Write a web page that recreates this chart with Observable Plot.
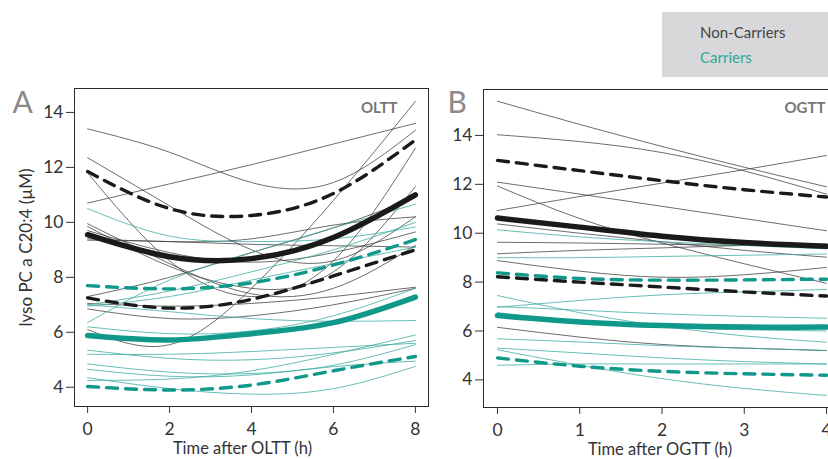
<!DOCTYPE html>
<html>
<head>
<meta charset="utf-8">
<script src="https://cdn.jsdelivr.net/npm/d3@7"></script>
<script src="https://cdn.jsdelivr.net/npm/@observablehq/plot@0.6"></script>
<style>
  body { margin: 0; background: #fff; }
  #chart { position: relative; width: 828px; height: 459px; overflow: hidden; font-family: Lato, sans-serif; }
  #chart svg { position: absolute; top: 0; }
  #legend { position: absolute; left: 662px; top: 12px; width: 190px; height: 65px; background: #d8d8da; }
  #legend span { position: absolute; left: 38px; font-size: 15px; line-height: 15px; white-space: nowrap; }
</style>
</head>
<body>
<div id="chart">
  <div id="legend">
    <span style="top:13px;color:#444">Non-Carriers</span>
    <span style="top:38px;color:#2aa99b">Carriers</span>
  </div>
</div>
<script>
// Sampling times (hours) for each test
const olttHours = [0, 2, 4, 6, 8];
const ogttHours = [0, 1, 2, 3, 4];
const yTicks = [4, 6, 8, 10, 12, 14];

// OLTT: fitted group curves (mean and band limits), lyso PC a C20:4 in µM
const olttNonCarrierMean = [9.55, 8.75, 8.68, 9.45, 11.0];
const olttNonCarrierUpper = [11.85, 10.5, 10.25, 11.05, 13.0];
const olttNonCarrierLower = [7.25, 6.88, 7.2, 8.05, 9.0];
const olttCarrierMean = [5.88, 5.72, 5.95, 6.35, 7.28];
const olttCarrierUpper = [7.7, 7.58, 7.8, 8.45, 9.37];
const olttCarrierLower = [4.03, 3.9, 4.08, 4.6, 5.12];

// OLTT: individual subject curves
const olttNonCarrierSubjects = [
  [13.4, 12.55, 11.45, 11.45, 13.35],
  [10.7, 11.4, 12.1, 12.85, 13.6],
  [12.35, 10.6, 9.0, 8.6, 10.2],
  [11.8, 8.6, 7.3, 8.6, 12.7],
  [9.95, 8.5, 7.4, 7.6, 9.16],
  [9.85, 8.4, 7.6, 8.2, 11.3],
  [9.7, 8.9, 8.55, 8.9, 9.65],
  [9.4, 9.3, 9.4, 9.9, 10.2],
  [9.35, 9.3, 9.2, 9.15, 9.1],
  [7.3, 8.0, 8.9, 9.8, 10.9],
  [7.05, 6.95, 7.05, 7.3, 7.64],
  [6.85, 6.5, 6.6, 7.0, 7.6],
  [6.1, 5.55, 7.6, 10.8, 14.4]
];
const olttCarrierSubjects = [
  [10.5, 9.5, 9.3, 9.4, 9.83],
  [6.35, 7.9, 8.9, 9.8, 10.66],
  [7.0, 7.5, 8.2, 9.0, 10.0],
  [7.0, 6.75, 6.5, 6.4, 6.43],
  [6.2, 5.95, 6.05, 6.6, 7.6],
  [5.35, 5.05, 5.0, 5.25, 5.7],
  [5.2, 5.2, 5.3, 5.45, 5.6],
  [4.85, 4.55, 4.5, 4.8, 5.55],
  [4.65, 4.4, 4.45, 4.75, 4.95],
  [4.35, 3.95, 3.75, 3.95, 4.76],
  [4.25, 4.3, 4.6, 5.2, 5.9],
  [6.95, 7.3, 7.9, 8.5, 9.1]
];

// OGTT: fitted group curves
const ogttNonCarrierMean = [10.62, 10.25, 9.88, 9.62, 9.47];
const ogttNonCarrierUpper = [12.98, 12.56, 12.15, 11.78, 11.48];
const ogttNonCarrierLower = [8.22, 8.0, 7.8, 7.6, 7.43];
const ogttCarrierMean = [6.63, 6.37, 6.22, 6.16, 6.16];
const ogttCarrierUpper = [8.38, 8.15, 8.08, 8.09, 8.12];
const ogttCarrierLower = [4.9, 4.56, 4.35, 4.25, 4.19];

// OGTT: individual subject curves
const ogttNonCarrierSubjects = [
  [15.4, 14.45, 13.55, 12.7, 11.9],
  [14.03, 13.75, 13.3, 12.55, 11.6],
  [10.93, 11.5, 12.05, 12.6, 13.18],
  [12.09, 11.6, 11.1, 10.6, 10.1],
  [11.93, 10.6, 9.6, 8.75, 7.95],
  [10.38, 10.0, 9.65, 9.3, 9.02],
  [9.63, 9.6, 9.55, 9.5, 9.45],
  [9.16, 9.3, 9.4, 9.5, 9.55],
  [8.88, 8.45, 8.2, 8.3, 8.6],
  [6.15, 5.75, 5.45, 5.3, 5.2]
];
const ogttCarrierSubjects = [
  [10.14, 9.85, 9.65, 9.5, 9.36],
  [9.0, 9.0, 9.05, 9.1, 9.15],
  [7.45, 6.75, 6.2, 5.8, 5.54],
  [6.97, 7.25, 7.48, 7.6, 7.7],
  [7.0, 6.85, 6.7, 6.6, 6.52],
  [6.75, 6.4, 6.15, 6.05, 6.0],
  [5.68, 5.55, 5.4, 5.3, 5.2],
  [5.3, 5.1, 4.9, 4.75, 4.65],
  [5.23, 4.6, 4.05, 3.65, 3.36],
  [4.6, 4.65, 4.65, 4.65, 4.65]
];

const INK = "#1a1a1a";
const TEAL = "#10998b";
const THIN_INK = "#3c3c3c";
const THIN_TEAL = "#35aa9d";

// Long-format rows for one curve or a set of curves
const toRows = (hours, values, id) => hours.map((t, i) => ({t, v: values[i], id}));
const manyRows = (hours, list, prefix) => list.flatMap((vals, k) => toRows(hours, vals, prefix + k));

function panel(o) {
  const thin = (rows, stroke) => Plot.line(rows, {x: "t", y: "v", z: "id", stroke, strokeWidth: 0.75, curve: "natural", clip: true});
  const dashed = (vals, stroke) => Plot.line(toRows(o.hours, vals, "d"), {x: "t", y: "v", stroke, strokeWidth: 3.4, strokeDasharray: "11,8", curve: "natural", clip: true});
  const bold = (vals, stroke) => Plot.line(toRows(o.hours, vals, "m"), {x: "t", y: "v", stroke, strokeWidth: 5.5, curve: "natural", clip: true});
  return Plot.plot({
    width: o.width,
    height: 459,
    marginLeft: o.marginLeft,
    marginRight: o.marginRight,
    marginTop: o.marginTop,
    marginBottom: o.marginBottom,
    style: {fontFamily: "Lato, sans-serif", fontSize: "17.5px", color: "#333", background: "transparent", overflow: "visible"},
    x: {domain: o.xDomain},
    y: {domain: o.yDomain},
    marks: [
      thin(manyRows(o.hours, o.nonSubjects, "n"), THIN_INK),
      thin(manyRows(o.hours, o.carSubjects, "c"), THIN_TEAL),
      dashed(o.nonUpper, INK),
      dashed(o.nonLower, INK),
      dashed(o.carUpper, TEAL),
      dashed(o.carLower, TEAL),
      bold(o.nonMean, INK),
      bold(o.carMean, TEAL),
      Plot.frame({stroke: "#2a2a2a", strokeWidth: 1}),
      Plot.axisX({ticks: o.hours, tickFormat: d => String(d), tickSize: 7, tickPadding: 9, fontSize: 17.5, label: null}),
      Plot.axisY({ticks: yTicks, tickFormat: d => String(d), tickSize: 8, tickPadding: 3, fontSize: 17.5, label: null}),
      Plot.text([o.letter], {text: d => d, frameAnchor: "top-left", dx: o.letterDx, dy: o.letterDy, textAnchor: "start", lineAnchor: "bottom", fontSize: 30, fill: "#8a8a8a"}),
      Plot.text([o.test], {text: d => d, frameAnchor: "top-right", dx: o.testDx, dy: o.letterDy, textAnchor: "end", lineAnchor: "bottom", fontSize: 15, fontWeight: "bold", fill: "#777"}),
      Plot.text([o.xTitle], {text: d => d, frameAnchor: "bottom", dx: o.xTitleDx, dy: 47, lineAnchor: "bottom", fontSize: 16.5, fill: "#333"}),
      ...(o.yTitle ? [Plot.text([o.yTitle], {text: d => d, frameAnchor: "left", dx: -48, rotate: -90, textAnchor: "middle", lineAnchor: "middle", fontSize: 17, fill: "#333"})] : [])
    ]
  });
}

const chart = document.getElementById("chart");

const plotA = panel({
  hours: olttHours,
  width: 440, marginLeft: 74, marginRight: 12, marginTop: 88, marginBottom: 53,
  xDomain: [-0.32, 8.32], yDomain: [3.3, 14.87],
  nonSubjects: olttNonCarrierSubjects, carSubjects: olttCarrierSubjects,
  nonMean: olttNonCarrierMean, nonUpper: olttNonCarrierUpper, nonLower: olttNonCarrierLower,
  carMean: olttCarrierMean, carUpper: olttCarrierUpper, carLower: olttCarrierLower,
  letter: "A", letterDx: -62, letterDy: 24, test: "OLTT", testDx: -31,
  xTitle: "Time after OLTT (h)", xTitleDx: -9, yTitle: "lyso PC a C20:4 (µM)"
});
plotA.style.left = "0px";

const plotB = panel({
  hours: ogttHours,
  width: 430, marginLeft: 63, marginRight: 10, marginTop: 89, marginBottom: 52,
  xDomain: [-0.17, 4.17], yDomain: [2.87, 15.88],
  nonSubjects: ogttNonCarrierSubjects, carSubjects: ogttCarrierSubjects,
  nonMean: ogttNonCarrierMean, nonUpper: ogttNonCarrierUpper, nonLower: ogttNonCarrierLower,
  carMean: ogttCarrierMean, carUpper: ogttCarrierUpper, carLower: ogttCarrierLower,
  letter: "B", letterDx: -36, letterDy: 23, test: "OGTT", testDx: -15,
  xTitle: "Time after OGTT (h)", xTitleDx: -2, yTitle: null
});
plotB.style.left = "420px";

chart.insertBefore(plotA, chart.firstChild);
chart.insertBefore(plotB, document.getElementById("legend"));
</script>
</body>
</html>
